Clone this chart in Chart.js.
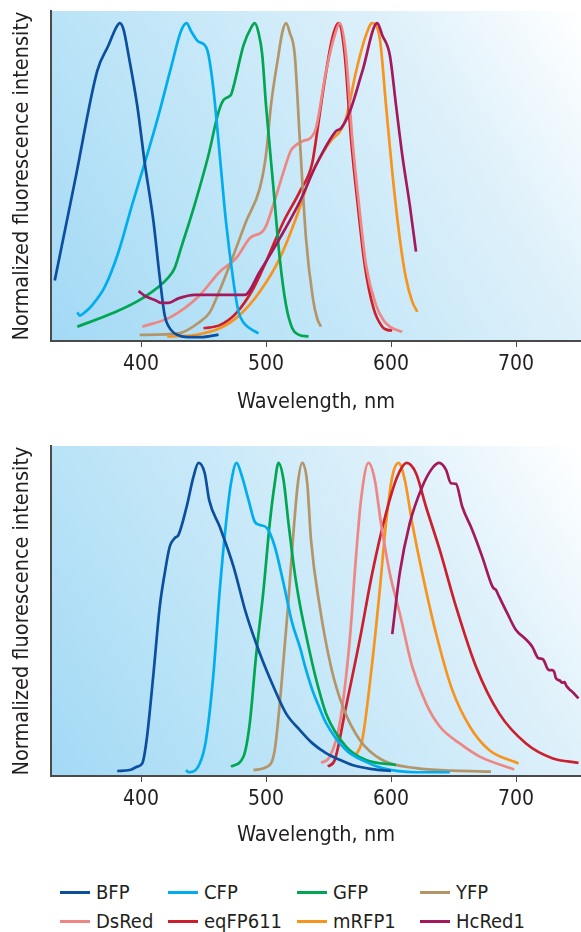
<!DOCTYPE html>
<html>
<head>
<meta charset="utf-8">
<script src="https://cdn.jsdelivr.net/npm/chart.js@4.4.1/dist/chart.umd.min.js"></script>
<style>
  body { margin: 0; background: #fff; width: 581px; height: 932px; position: relative; overflow: hidden;
         font-family: 'DejaVu Sans Condensed', 'Liberation Sans Narrow', sans-serif; color: #231f20; }
  canvas { position: absolute; left: 0; }
  #exChart { top: 0; }
  #emChart { top: 435px; }
  .lg-line { position: absolute; width: 30px; height: 3px; }
  .lg-text { position: absolute; font-size: 20px; line-height: 24px; white-space: nowrap; }
</style>
</head>
<body>
<canvas id="exChart" width="581" height="416"></canvas>
<canvas id="emChart" width="581" height="416"></canvas>
<div id="legend"></div>
<script>
// names + colours, same order in both panels
const proteins = ['BFP', 'CFP', 'GFP', 'YFP', 'DsRed', 'eqFP611', 'mRFP1', 'HcRed1'];
const colors = ['#0b4f9e', '#00aeef', '#00a651', '#b49569', '#ee8783', '#cc1f2d', '#f7941e', '#a3195b'];
const xTicks = [400, 500, 600, 700];

// excitation spectra (top panel), [wavelength nm, normalized intensity]
const exBFP = [[331,0.19],[348,0.52],[365,0.85],[374,0.93],[380,0.985],[383,1.0],[386,0.98],[390,0.90],[397,0.74],[403,0.56],[410,0.375],[415,0.2],[419,0.08],[424,0.035],[430,0.018],[435,0.013],[448,0.012],[462,0.02]];
const exCFP = [[349,0.09],[351,0.08],[355,0.09],[361,0.113],[371,0.17],[382,0.28],[393,0.43],[403,0.56],[414,0.71],[424,0.86],[432,0.975],[436.5,1.0],[440,0.975],[445,0.945],[452,0.925],[454,0.9],[458,0.79],[463,0.585],[468,0.375],[474,0.186],[478,0.092],[482,0.058],[487,0.04],[494,0.024]];
const exGFP = [[349,0.045],[377,0.087],[401,0.134],[422,0.2],[427,0.23],[432,0.292],[443,0.43],[454,0.585],[462,0.72],[466,0.758],[470,0.768],[472,0.775],[474,0.8],[482,0.93],[488,0.985],[491,1.0],[494,0.97],[497,0.9],[500,0.742],[506,0.48],[511,0.26],[516,0.113],[521,0.04],[526,0.02],[534,0.014]];
const exYFP = [[399,0.019],[430,0.024],[447,0.06],[455,0.09],[463,0.16],[474,0.27],[484,0.375],[495,0.48],[500,0.585],[504,0.742],[510,0.9],[513,0.97],[516,1.0],[519,0.97],[523,0.9],[527,0.637],[532,0.323],[537.5,0.134],[541,0.07],[544,0.045]];
const exDsRed = [[401,0.045],[424,0.076],[446,0.14],[463,0.218],[476,0.26],[487,0.323],[499,0.354],[506,0.43],[514,0.532],[520,0.6],[524,0.616],[530,0.63],[535,0.637],[540,0.67],[548,0.847],[555,0.962],[559,1.0],[564,0.9],[569,0.637],[575,0.407],[580,0.24],[588,0.113],[594,0.065],[599,0.045],[604,0.035],[609,0.029]];
const exEqFP611 = [[450,0.04],[463,0.05],[476,0.087],[490,0.166],[500,0.249],[514,0.375],[527,0.47],[537,0.56],[541,0.66],[546,0.795],[553,0.952],[558,1.0],[563,0.9],[568,0.637],[574,0.407],[579,0.239],[586,0.103],[593,0.045],[597,0.035],[601,0.033]];
const exMRFP1 = [[421,0.014],[443,0.019],[463,0.04],[479,0.082],[495,0.155],[511,0.26],[524,0.386],[535,0.512],[546,0.595],[553,0.635],[559,0.658],[564,0.7],[572,0.847],[580,0.962],[585,1.0],[591,0.952],[596,0.742],[601,0.532],[607,0.323],[612,0.197],[617,0.124],[621,0.092]];
const exHcRed1 = [[398,0.157],[404,0.14],[411,0.129],[416,0.12],[422,0.12],[430,0.134],[443,0.145],[483,0.145],[495,0.218],[511,0.323],[527,0.438],[540,0.553],[556,0.66],[560,0.669],[567,0.721],[577,0.847],[589,1.0],[593,0.962],[599,0.9],[604,0.742],[609,0.585],[615,0.428],[620,0.281]];

// emission spectra (bottom panel)
const emBFP = [[381,0.016],[391,0.019],[397,0.03],[401,0.04],[404.5,0.115],[410,0.328],[415,0.541],[419,0.648],[423,0.733],[427,0.76],[430,0.77],[436.5,0.86],[442,0.956],[446,1.0],[451,0.967],[454.5,0.882],[463,0.796],[474,0.669],[484,0.52],[495,0.392],[506,0.285],[516,0.2],[527,0.147],[537,0.105],[548,0.073],[560,0.05],[569,0.035],[585,0.022],[600,0.016]];
const emCFP = [[436,0.019],[438,0.012],[447,0.04],[452,0.115],[458,0.328],[463,0.594],[468,0.807],[472,0.935],[476.5,1.0],[480,0.967],[486,0.882],[491,0.812],[495,0.802],[501,0.791],[507,0.733],[514,0.616],[521,0.488],[527,0.413],[532,0.34],[537.5,0.27],[542,0.225],[548,0.17],[564,0.083],[580,0.045],[593,0.025],[620,0.012],[647,0.012]];
const emGFP = [[472,0.03],[482,0.062],[487,0.168],[492,0.381],[498,0.594],[503,0.807],[507,0.935],[510,1.0],[514,0.946],[518,0.807],[523,0.648],[527,0.55],[531,0.47],[537,0.36],[542,0.28],[548,0.2],[564,0.094],[580,0.051],[604,0.035]];
const emYFP = [[490,0.019],[503,0.035],[507,0.083],[512,0.275],[517.6,0.541],[521.5,0.754],[525.5,0.935],[529,1.0],[533,0.935],[536,0.754],[543,0.541],[552,0.349],[561.5,0.221],[575,0.115],[593,0.051],[620,0.025],[650,0.017],[680,0.014]];
const emDsRed = [[544,0.042],[551,0.062],[559,0.168],[567,0.435],[572,0.7],[576,0.882],[582,1.0],[587,0.946],[592,0.807],[599,0.648],[607,0.52],[617,0.349],[628,0.232],[639,0.158],[655,0.104],[671,0.062],[698.5,0.021]];
const emEqFP611 = [[549.5,0.03],[555,0.051],[564,0.221],[575,0.435],[585,0.648],[596,0.839],[605,0.956],[612.5,1.0],[620,0.967],[628,0.86],[639,0.722],[652,0.541],[668,0.349],[686.5,0.2],[708,0.104],[729,0.057],[750,0.042]];
const emMRFP1 = [[571,0.062],[577,0.115],[584,0.328],[591,0.594],[596,0.807],[601,0.956],[606,1.0],[611,0.946],[617,0.807],[625,0.648],[636,0.456],[649,0.275],[663,0.158],[678.5,0.083],[702,0.04]];
const emHcRed1 = [[601,0.453],[607,0.648],[615,0.807],[625,0.924],[633,0.983],[638.6,1.0],[644,0.978],[648,0.935],[652,0.933],[657,0.86],[665,0.786],[673,0.70],[680,0.616],[682,0.6],[684,0.594],[686.5,0.573],[693,0.52],[700,0.466],[707,0.44],[713,0.413],[718,0.376],[720,0.375],[722,0.371],[726,0.339],[729,0.338],[730.5,0.333],[732,0.312],[735,0.305],[737,0.298],[739,0.3],[740,0.29],[742,0.28],[746,0.265],[750,0.248]];

const exSeries = [exBFP, exCFP, exGFP, exYFP, exDsRed, exEqFP611, exMRFP1, exHcRed1];
const emSeries = [emBFP, emCFP, emGFP, emYFP, emDsRed, emEqFP611, emMRFP1, emHcRed1];

const FONT = "'DejaVu Sans Condensed', 'Liberation Sans Narrow', sans-serif";
const INK = '#231f20';
const AXIS = '#4a4a4a';

// light blue -> white wash behind the plot
const bgPlugin = {
  id: 'bg',
  beforeDraw(chart) {
    const { ctx, chartArea: a } = chart;
    const g = ctx.createLinearGradient(a.left, a.bottom, a.right, a.top);
    g.addColorStop(0, '#a3d9f5');
    g.addColorStop(0.28, '#b9e3f7');
    g.addColorStop(0.72, '#ddf0fa');
    g.addColorStop(1, '#ffffff');
    ctx.save();
    ctx.fillStyle = g;
    ctx.fillRect(a.left, a.top, a.right - a.left, a.bottom - a.top);
    ctx.restore();
  }
};

function makeChart(id, series, yMax, titlePad) {
  const ctx = document.getElementById(id).getContext('2d');
  const datasets = series.map((s, i) => ({
    label: proteins[i],
    data: s.map(p => ({ x: p[0], y: p[1] })),
    borderColor: colors[i],
    borderWidth: 2.7,
    pointRadius: 0,
    fill: false,
    cubicInterpolationMode: 'monotone',
    borderJoinStyle: 'round',
    borderCapStyle: 'butt',
    order: proteins[i] === 'HcRed1' ? -1 : 0  // magenta sits on top
  }));

  return new Chart(ctx, {
    type: 'line',
    data: { datasets },
    plugins: [bgPlugin],
    options: {
      responsive: false,
      animation: false,
      devicePixelRatio: 1,
      events: [],
      layout: { padding: { top: 11, right: 0, left: 0, bottom: 0 } },
      plugins: { legend: { display: false }, tooltip: { enabled: false } },
      scales: {
        x: {
          type: 'linear',
          min: 328,
          max: 752,
          afterBuildTicks: axis => { axis.ticks = xTicks.map(v => ({ value: v })); },
          afterFit: axis => { axis.height = 75; },
          grid: { display: true, drawOnChartArea: false, drawTicks: true, tickLength: 6, color: AXIS, lineWidth: 1 },
          border: { display: true, color: AXIS, width: 2 },
          ticks: { color: INK, font: { family: FONT, size: 21 }, padding: 5, maxRotation: 0 },
          title: { display: true, text: 'Wavelength, nm', color: INK, font: { family: FONT, size: 21.5 }, padding: { top: 0, bottom: titlePad } }
        },
        y: {
          min: 0,
          max: yMax,
          afterFit: axis => { axis.width = 51; },
          grid: { display: false },
          ticks: { display: false },
          border: { display: true, color: AXIS, width: 2 },
          title: { display: true, text: 'Normalized fluorescence intensity', color: INK, font: { family: FONT, size: 21.5 }, padding: { top: 10, bottom: 0 } }
        }
      }
    }
  });
}

makeChart('exChart', exSeries, 1.038, 1);
makeChart('emChart', emSeries, 1.054, 3);

// legend under both panels: 2 rows x 4 columns
const legendCols = [60, 168, 297, 420];
const legendRows = [892, 921];
const legend = document.getElementById('legend');
proteins.forEach((name, i) => {
  const x = legendCols[i % 4];
  const y = legendRows[Math.floor(i / 4)];
  const line = document.createElement('div');
  line.className = 'lg-line';
  line.style.left = x + 'px';
  line.style.top = (y - 1.5) + 'px';
  line.style.background = colors[i];
  const txt = document.createElement('div');
  txt.className = 'lg-text';
  txt.style.left = (x + 36) + 'px';
  txt.style.top = (y - 12) + 'px';
  txt.textContent = name;
  legend.appendChild(line);
  legend.appendChild(txt);
});
</script>
</body>
</html>
